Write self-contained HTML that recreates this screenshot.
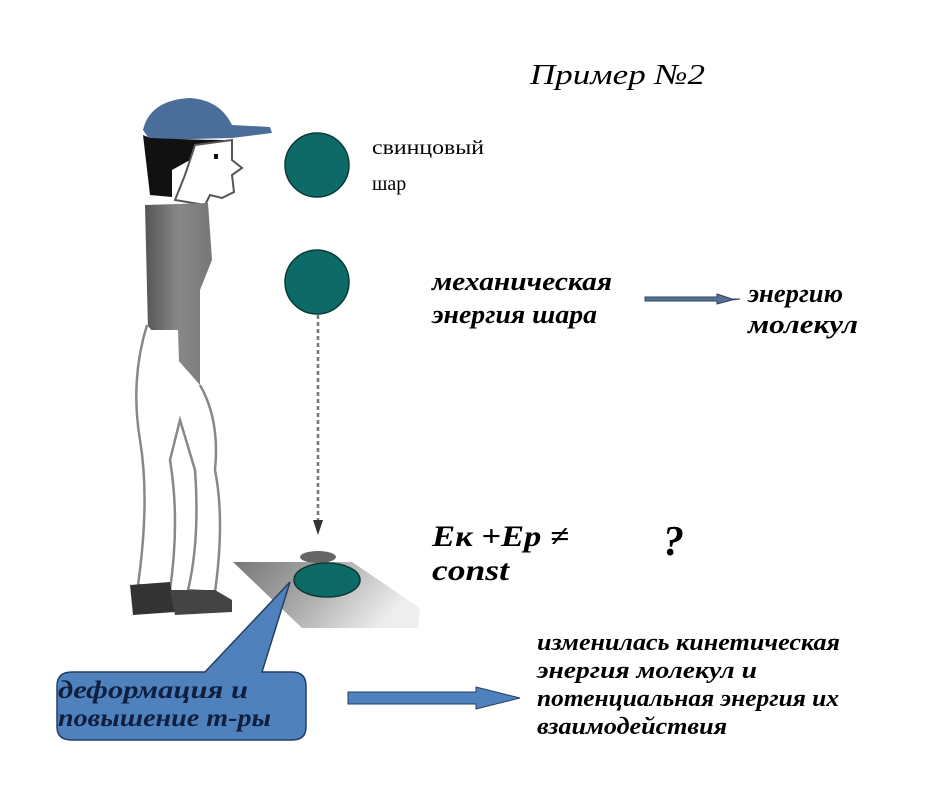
<!DOCTYPE html>
<html><head><meta charset="utf-8"><style>
html,body{margin:0;padding:0;background:#fff;width:939px;height:804px;overflow:hidden}
svg{display:block}
.t{font-family:"Liberation Serif",serif}
.bi{font-family:"Liberation Serif",serif;font-weight:bold;font-style:italic}
</style></head><body>
<svg width="939" height="804" viewBox="0 0 939 804" xmlns="http://www.w3.org/2000/svg">
<defs>
<linearGradient id="pl" x1="0" y1="0" x2="1" y2="0.3">
<stop offset="0" stop-color="#777"/><stop offset="0.5" stop-color="#aaa"/><stop offset="1" stop-color="#eee"/>
</linearGradient>
<linearGradient id="sh" x1="0" y1="0" x2="1" y2="0">
<stop offset="0" stop-color="#555"/><stop offset="0.5" stop-color="#888"/><stop offset="1" stop-color="#777"/>
</linearGradient>
</defs>
<text class="t" x="530" y="84" font-size="29" font-style="italic" textLength="175" lengthAdjust="spacingAndGlyphs">Пример №2</text>

<!-- person -->
<path d="M143,130 Q150,100 190,98 Q220,100 232,125 L270,127 L272,133 L232,138 L150,140 Z" fill="#4a6d99"/>
<path d="M143,135 L150,195 L172,197 L172,170 L190,160 L195,145 L232,140 Q200,140 150,138 Z" fill="#111"/>
<path d="M195,145 L232,140 L232,160 L242,168 L232,175 L234,192 L222,198 L210,195 L205,205 L175,200 L185,175 Z" fill="#fff" stroke="#555" stroke-width="2"/>
<rect x="214" y="154" width="4" height="5" fill="#111"/>
<path d="M145,205 L208,203 L212,260 L200,290 L200,395 L180,395 L178,330 L148,330 Z" fill="url(#sh)"/>
<path d="M168,385 L188,385 L190,410 L175,412 Z" fill="#fff" stroke="#333" stroke-width="2"/>
<path d="M147,325 Q130,380 140,440 Q150,500 138,585 L170,590 Q180,520 170,460 L180,420 L195,470 Q200,540 188,590 L215,592 Q225,520 215,470 Q220,420 200,385" fill="#fff" stroke="#888" stroke-width="2.5"/>
<path d="M130,585 L170,582 L175,612 L133,615 Z" fill="#333"/>
<path d="M170,590 L215,590 L232,600 L232,612 L175,615 Z" fill="#444"/>

<!-- balls -->
<circle cx="317" cy="165" r="32" fill="#0d6a66" stroke="#0a3a38" stroke-width="1.5"/>
<circle cx="317" cy="282" r="32" fill="#0d6a66" stroke="#0a3a38" stroke-width="1.5"/>
<line x1="318" y1="315" x2="318" y2="522" stroke="#777" stroke-width="2.5" stroke-dasharray="4,3"/>
<path d="M313,520 L323,520 L318,535 Z" fill="#333"/>
<path d="M233,562 L352,562 L420,608 L418,628 L302,628 Z" fill="url(#pl)"/>
<ellipse cx="318" cy="557" rx="18" ry="6" fill="#666"/>
<ellipse cx="327" cy="580" rx="33" ry="17" fill="#0d6a66" stroke="#0a3a38" stroke-width="1.5"/>

<text class="t" x="372" y="154" font-size="20" textLength="112" lengthAdjust="spacingAndGlyphs">свинцовый</text>
<text class="t" x="372" y="190" font-size="20">шар</text>

<!-- callout -->
<path d="M72,672 L205,672 L290,582 L262,672 L292,672 Q306,672 306,686 L306,727 Q306,740 292,740 L72,740 Q57,740 57,727 L57,686 Q57,672 72,672 Z" fill="#4f81bd" stroke="#243f66" stroke-width="1.5"/>
<text class="bi" x="58" y="698" font-size="25" fill="#0f1f40" textLength="190" lengthAdjust="spacingAndGlyphs">деформация и</text>
<text class="bi" x="58" y="726" font-size="25" fill="#0f1f40" textLength="213" lengthAdjust="spacingAndGlyphs">повышение т-ры</text>

<path d="M348,692 L476,692 L476,687 L520,698 L476,709 L476,704 L348,704 Z" fill="#4f81bd" stroke="#243f66" stroke-width="1"/>

<text class="bi" x="537" y="650" font-size="24" textLength="303" lengthAdjust="spacingAndGlyphs">изменилась кинетическая</text>
<text class="bi" x="537" y="678" font-size="24" textLength="220" lengthAdjust="spacingAndGlyphs">энергия молекул и</text>
<text class="bi" x="537" y="706" font-size="24" textLength="302" lengthAdjust="spacingAndGlyphs">потенциальная энергия их</text>
<text class="bi" x="537" y="734" font-size="24" textLength="190" lengthAdjust="spacingAndGlyphs">взаимодействия</text>

<text class="bi" x="432" y="290" font-size="26" textLength="180" lengthAdjust="spacingAndGlyphs">механическая</text>
<text class="bi" x="432" y="323" font-size="26" textLength="165" lengthAdjust="spacingAndGlyphs">энергия шара</text>
<path d="M645,297 L717,297 L717,294 L732,299 L740,299 L732,300 L717,304 L717,301 L645,301 Z" fill="#56708f" stroke="#2d4360" stroke-width="1"/>
<text class="bi" x="748" y="302" font-size="26" textLength="95" lengthAdjust="spacingAndGlyphs">энергию</text>
<text class="bi" x="748" y="333" font-size="26" textLength="110" lengthAdjust="spacingAndGlyphs">молекул</text>

<text class="bi" x="432" y="546" font-size="30" textLength="137" lengthAdjust="spacingAndGlyphs">Eк +Eр ≠</text>
<text class="bi" x="432" y="580" font-size="30" textLength="77" lengthAdjust="spacingAndGlyphs">const</text>
<text class="bi" x="663" y="555" font-size="42">?</text>
</svg>
</body></html>
